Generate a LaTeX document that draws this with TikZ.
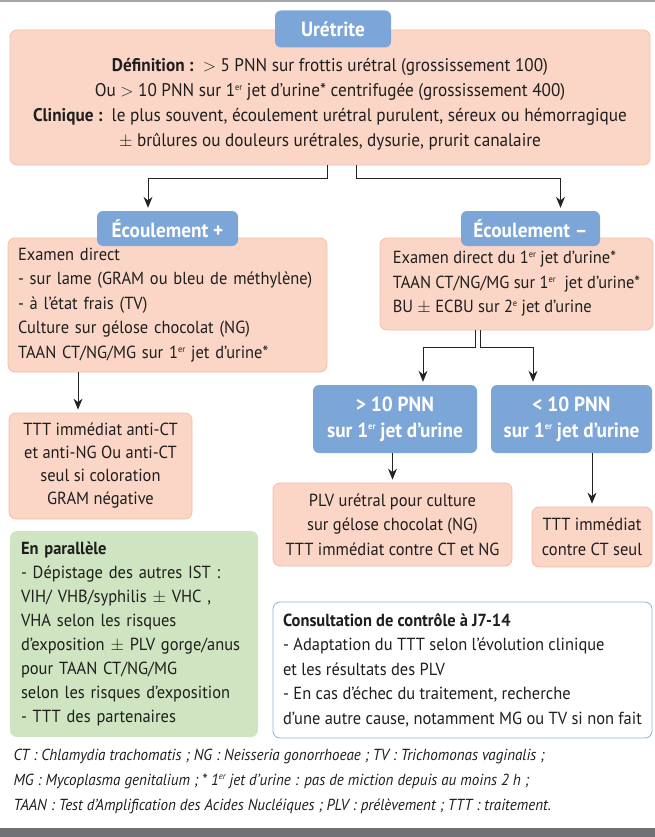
\documentclass[tikz,border=0pt]{standalone}
\usepackage{fontspec}
\setmainfont{PT Sans}[FakeStretch=0.94]
\usetikzlibrary{arrows.meta}

\definecolor{boxfill}{RGB}{251,214,199}
\definecolor{boxline}{RGB}{246,188,166}
\definecolor{tabblue}{RGB}{124,166,216}
\definecolor{parafill}{RGB}{207,228,192}
\definecolor{ctrlline}{RGB}{140,176,222}
\definecolor{textdark}{RGB}{30,30,30}
\definecolor{arrowgray}{RGB}{35,35,35}
\definecolor{topgray}{RGB}{165,165,165}
\definecolor{bandgray}{RGB}{112,113,117}

\newcommand{\boxfont}{\fontsize{17.5}{24.5}\selectfont}
\newcommand{\expo}[1]{\raisebox{0.36em}{\fontsize{9}{9}\selectfont #1}}

\tikzset{
  box/.style={rounded corners=7pt, fill=boxfill, draw=boxline, line width=0.8pt, text=textdark, inner sep=0pt},
  tab/.style={rounded corners=6pt, fill=tabblue, text=white, inner sep=0pt, font=\fontsize{20.5}{26}\selectfont\bfseries},
  parabox/.style={rounded corners=7pt, fill=parafill, text=textdark, inner sep=0pt},
  ctrlbox/.style={rounded corners=7pt, fill=white, draw=ctrlline, line width=0.8pt, text=textdark, inner sep=0pt},
  link/.style={->, line width=1pt, draw=arrowgray, shorten >=3pt}
}

\begin{document}
\begin{tikzpicture}[x=1pt, y=-1pt, >={Stealth[length=11pt,width=9pt]}, every node/.style={font=\boxfont}]
  \useasboundingbox (0,0) rectangle (655,837);
  \fill[topgray] (0,0) rectangle (655,2);
  \fill[bandgray] (0,828) rectangle (655,837);

  % uretrite
  \node[box, minimum width=640pt, minimum height=135pt] (uret) at (330,97.5) {};
  \node[tab, minimum width=116pt, minimum height=37pt] (urettab) at (333,29) {Urétrite};
  \node[text=textdark, align=center, font=\fontsize{18.3}{25}\selectfont] (urettxt) at (330,104.5) {\textbf{Définition :}\ \ $>$ 5 PNN sur frottis urétral (grossissement 100)\\
    Ou $>$ 10 PNN sur 1\expo{er} jet d’urine* centrifugée (grossissement 400)\\
    \textbf{Clinique :}\ \ le plus souvent, écoulement urétral purulent, séreux ou hémorragique\\
    $\pm$ brûlures ou douleurs urétrales, dysurie, prurit canalaire};

  % ecoulement +
  \node[box, minimum width=319pt, minimum height=134pt, text width=299pt, inner xsep=10pt, align=left] (examen) at (167.5,305) {Examen direct\\
    - sur lame (GRAM ou bleu de méthylène)\\
    - à l’état frais (TV)\\
    Culture sur gélose chocolat (NG)\\
    TAAN CT/NG/MG sur 1\expo{er} jet d’urine*};
  \node[tab, minimum width=141pt, minimum height=35pt] (ecplus) at (167.5,228.5) {Écoulement +};

  % ecoulement -
  \node[box, minimum width=273pt, minimum height=92pt, align=left] (examenu) at (516.5,284) {Examen direct du 1\expo{er} jet d’urine*\\
    TAAN CT/NG/MG sur 1\expo{er}\ \ jet d’urine*\\
    BU $\pm$ ECBU sur 2\expo{e} jet d’urine};
  \node[tab, minimum width=139pt, minimum height=35pt] (ecmoins) at (530.5,228.5) {Écoulement –};

  \node[tab, minimum width=164pt, minimum height=68pt, align=center] (sup10) at (395,419) {> 10 PNN\\sur 1\expo{er} jet d’urine};
  \node[tab, minimum width=161pt, minimum height=68pt, align=center] (inf10) at (571.5,419) {< 10 PNN\\sur 1\expo{er} jet d’urine};

  \node[box, minimum width=239pt, minimum height=83pt, align=center] (plv) at (392.5,524.5) {PLV urétral pour culture\\
    sur gélose chocolat (NG)\\
    TTT immédiat contre CT et NG};
  \node[box, minimum width=120pt, minimum height=60pt, align=center] (ctseul) at (592,537) {TTT immédiat\\contre CT seul};

  \node[box, minimum width=183pt, minimum height=106pt, align=center, font=\fontsize{17.5}{23}\selectfont] (anti) at (100.5,466) {TTT immédiat anti-CT\\
    et anti-NG Ou anti-CT\\
    seul si coloration\\
    GRAM négative};

  % en parallele / controle
  \node[parabox, minimum width=248pt, minimum height=206pt, text width=226pt, inner xsep=11pt, align=left, font=\fontsize{17.5}{24}\selectfont] (para) at (134,634) {\textbf{En parallèle}\\
    - Dépistage des autres IST :\\
    VIH/ VHB/syphilis $\pm$ VHC ,\\
    VHA selon les risques\\
    d’exposition $\pm$ PLV gorge/anus\\
    pour TAAN CT/NG/MG\\
    selon les risques d’exposition\\
    - TTT des partenaires};
  \node[ctrlbox, minimum width=379pt, minimum height=136pt, align=left] (controle) at (462.5,670) {\textbf{Consultation de contrôle à J7-14}\\
    - Adaptation du TTT selon l’évolution clinique\\
    et les résultats des PLV\\
    - En cas d’échec du traitement, recherche\\
    d’une autre cause, notamment MG ou TV si non fait};

  \node[anchor=west, align=left, text=textdark, font=\fontsize{16}{25}\selectfont\itshape] (legende) at (10,781) {CT : Chlamydia trachomatis ; NG : Neisseria gonorrhoeae ; TV : Trichomonas vaginalis ;\\
    MG : Mycoplasma genitalium ; * 1\expo{er} jet d’urine : pas de miction depuis au moins 2 h ;\\
    TAAN : Test d’Amplification des Acides Nucléiques ; PLV : prélèvement ; TTT : traitement.};

  % fleches
  \draw[link] ([xshift=-3pt]uret.south) -- ++(0,13) -| ([xshift=-19.5pt]ecplus.north);
  \draw[link] ([xshift=26pt]uret.south) -- ++(0,13) -| ([xshift=30pt]ecmoins.north);
  \draw[link] ([xshift=-22.5pt]anti.north |- examen.south) -- ([xshift=-22.5pt]anti.north);
  \draw[link] ([xshift=-41.5pt]examenu.south) -- ++(0,17) -| ([xshift=28pt]sup10.north);
  \draw[link] ([xshift=-36.5pt]examenu.south) -- ++(0,17) -| ([xshift=-38.5pt]inf10.north);
  \draw[link] (sup10.south -| plv.north) -- (plv.north);
  \draw[link] (inf10.south -| ctseul.north) -- (ctseul.north);
\end{tikzpicture}
\end{document}
